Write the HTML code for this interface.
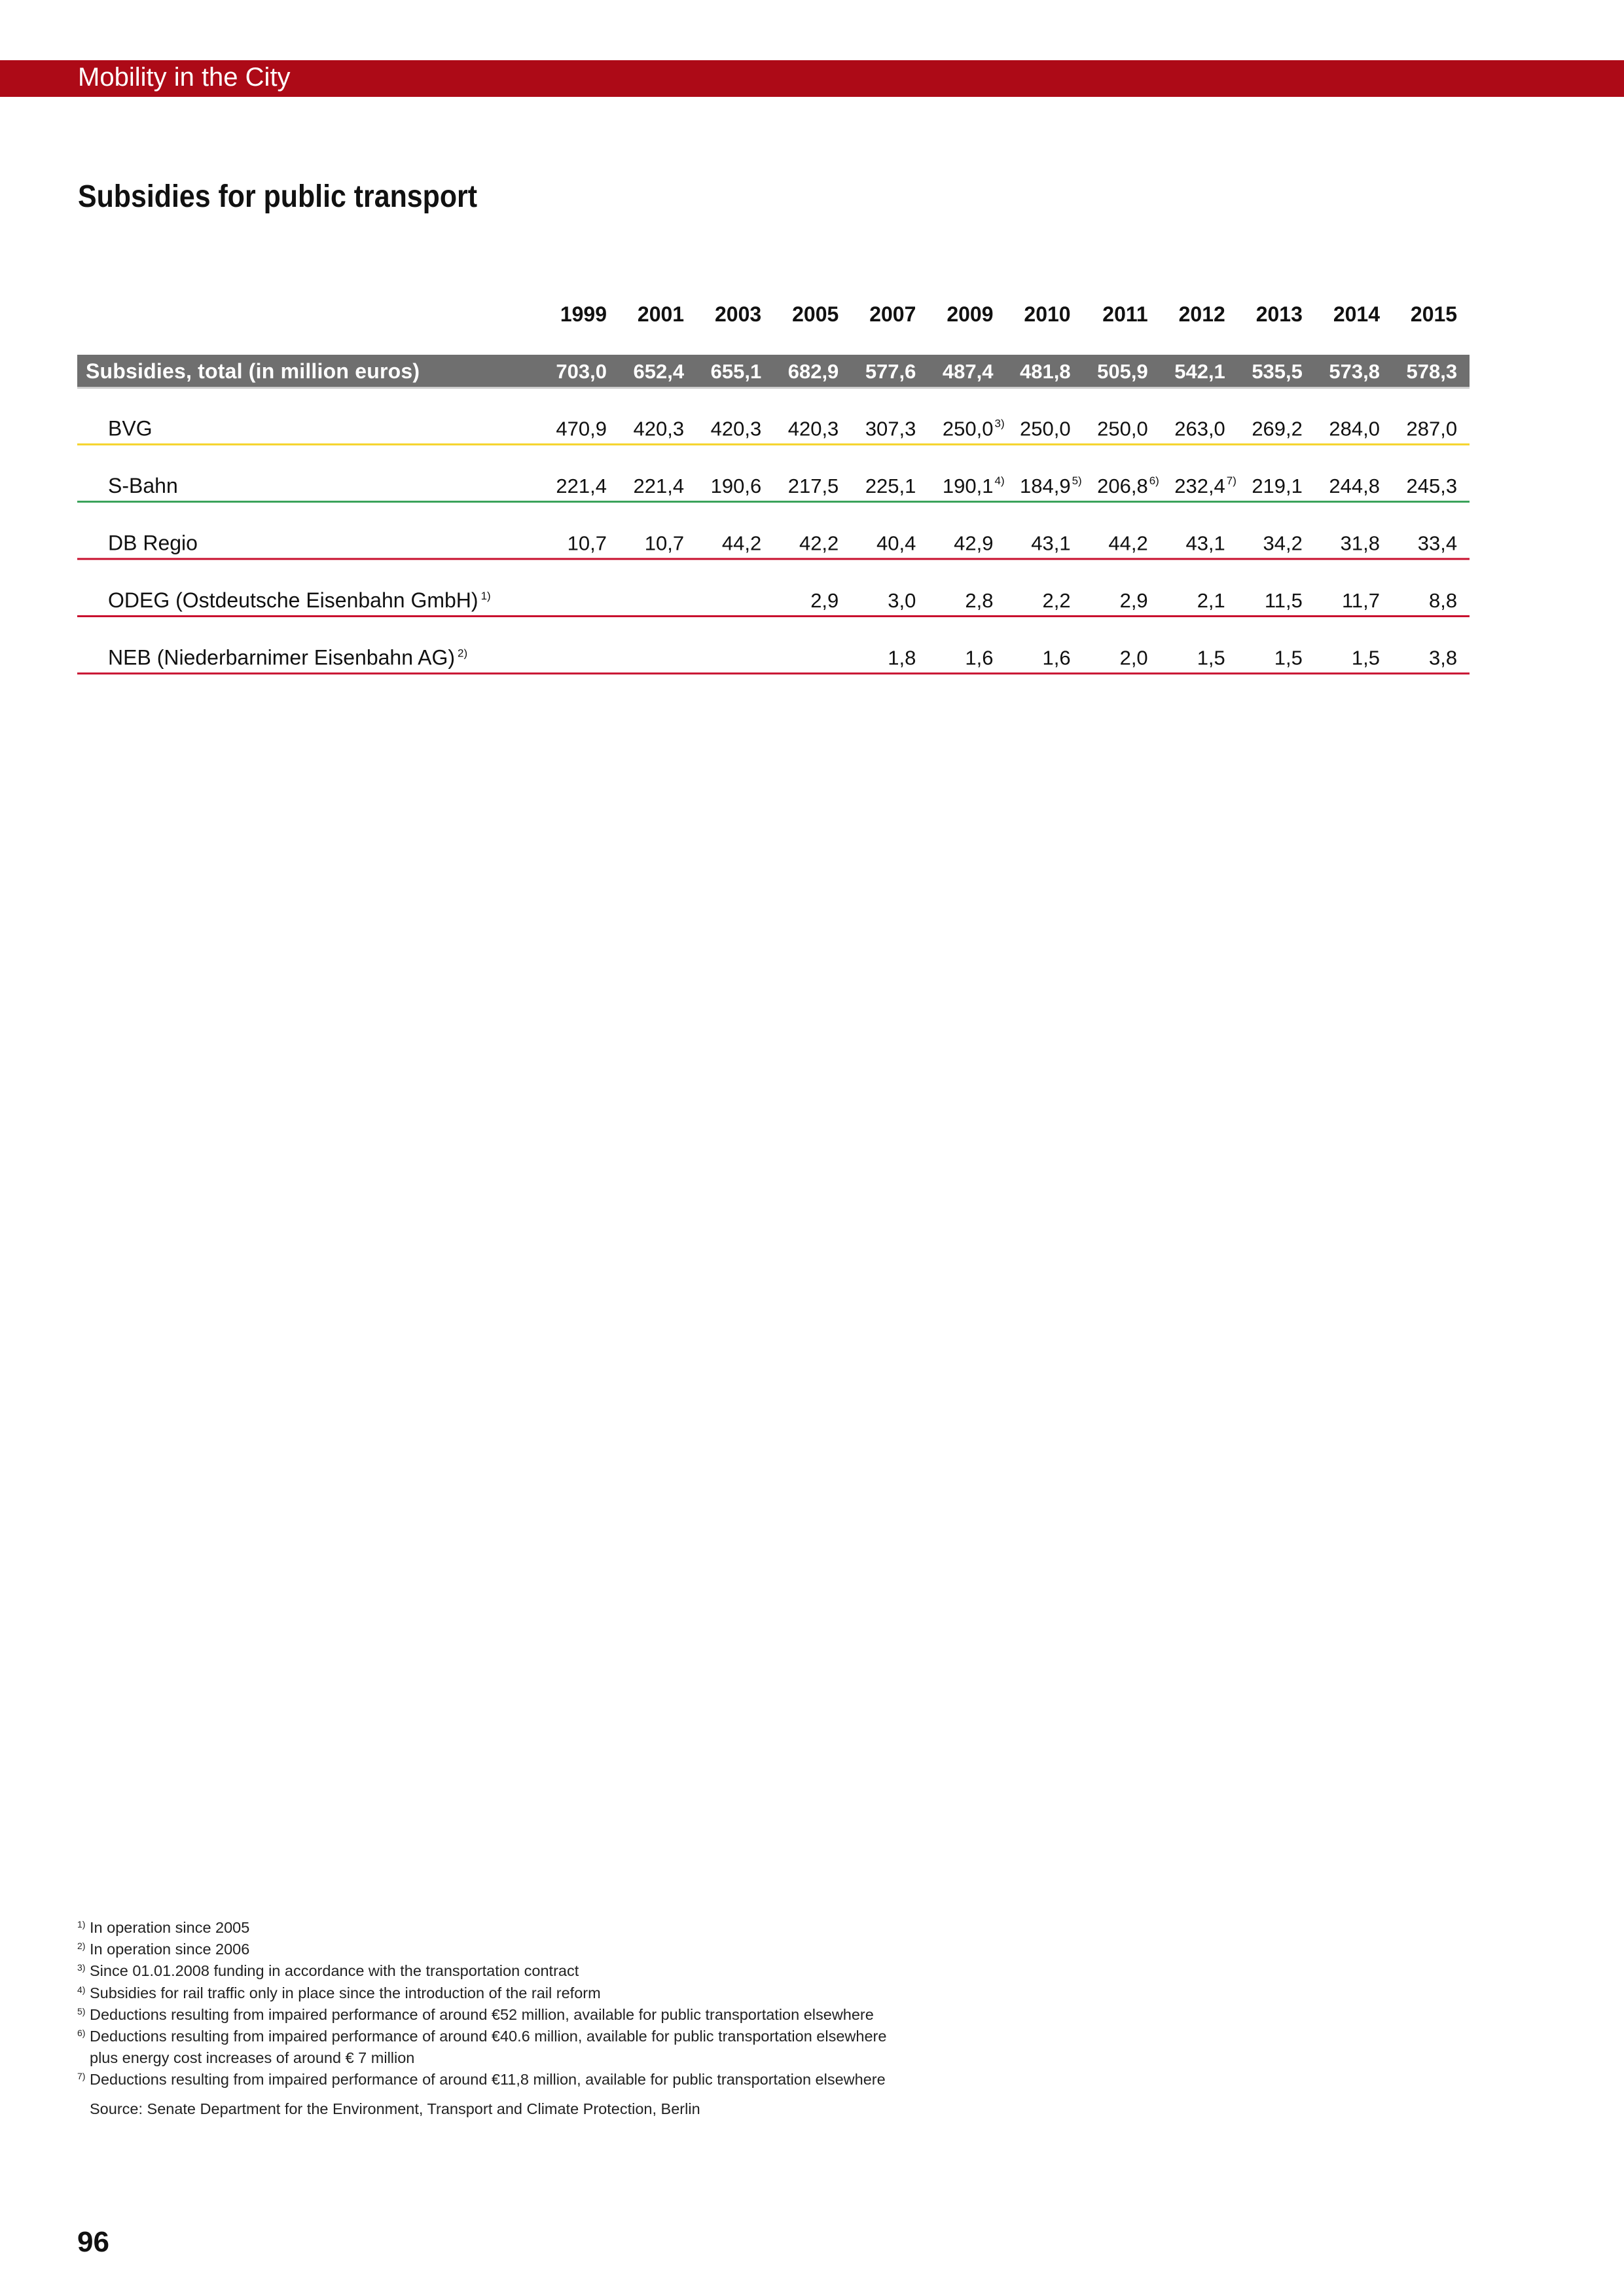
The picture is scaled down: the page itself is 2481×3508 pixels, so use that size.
<!DOCTYPE html>
<html><head><meta charset="utf-8"><style>
html,body{margin:0;padding:0;background:#fff}
svg{display:block}
text{font-family:"Liberation Sans",sans-serif}
</style></head><body>
<svg id="page" width="2481" height="3508" viewBox="0 0 2481 3508" xmlns="http://www.w3.org/2000/svg">
<rect x="0" y="92" width="2481" height="56" fill="#ad0a17"/>
<text x="119" y="131" font-size="40" fill="#fff">Mobility in the City</text>
<text x="119" y="316" font-size="48" font-weight="bold" fill="#111" textLength="610" lengthAdjust="spacingAndGlyphs">Subsidies for public transport</text>
<g id="table"></g>
<g font-size="23.5" fill="#222">
<text x="118" y="2953"><tspan font-size="14" dy="-8">1)</tspan><tspan x="137" dy="8">In operation since 2005</tspan></text>
<text x="118" y="2986"><tspan font-size="14" dy="-8">2)</tspan><tspan x="137" dy="8">In operation since 2006</tspan></text>
<text x="118" y="3019"><tspan font-size="14" dy="-8">3)</tspan><tspan x="137" dy="8">Since 01.01.2008 funding in accordance with the transportation contract</tspan></text>
<text x="118" y="3053"><tspan font-size="14" dy="-8">4)</tspan><tspan x="137" dy="8">Subsidies for rail traffic only in place since the introduction of the rail reform</tspan></text>
<text x="118" y="3086"><tspan font-size="14" dy="-8">5)</tspan><tspan x="137" dy="8">Deductions resulting from impaired performance of around €52 million, available for public transportation elsewhere</tspan></text>
<text x="118" y="3119"><tspan font-size="14" dy="-8">6)</tspan><tspan x="137" dy="8">Deductions resulting from impaired performance of around €40.6 million, available for public transportation elsewhere</tspan></text>
<text x="137" y="3152">plus energy cost increases of around € 7 million</text>
<text x="118" y="3185"><tspan font-size="14" dy="-8">7)</tspan><tspan x="137" dy="8">Deductions resulting from impaired performance of around €11,8 million, available for public transportation elsewhere</tspan></text>
<text x="137" y="3230">Source: Senate Department for the Environment, Transport and Climate Protection, Berlin</text>
</g>
<text x="118" y="3440" font-size="44" font-weight="bold" fill="#111">96</text>
</svg>
<script>
const years = ["1999","2001","2003","2005","2007","2009","2010","2011","2012","2013","2014","2015"];
const rowLabels = ["Subsidies, total (in million euros)","BVG","S-Bahn","DB Regio","ODEG (Ostdeutsche Eisenbahn GmbH)","NEB (Niederbarnimer Eisenbahn AG)"];
const labelNotes = ["","","","","1)","2)"];
const totalValues = ["703,0","652,4","655,1","682,9","577,6","487,4","481,8","505,9","542,1","535,5","573,8","578,3"];
const bvgValues = ["470,9","420,3","420,3","420,3","307,3","250,0","250,0","250,0","263,0","269,2","284,0","287,0"];
const sbahnValues = ["221,4","221,4","190,6","217,5","225,1","190,1","184,9","206,8","232,4","219,1","244,8","245,3"];
const dbRegioValues = ["10,7","10,7","44,2","42,2","40,4","42,9","43,1","44,2","43,1","34,2","31,8","33,4"];
const odegValues = ["","","","2,9","3,0","2,8","2,2","2,9","2,1","11,5","11,7","8,8"];
const nebValues = ["","","","","1,8","1,6","1,6","2,0","1,5","1,5","1,5","3,8"];
const bvgNotes = ["","","","","","3)","","","","","",""];
const sbahnNotes = ["","","","","","4)","5)","6)","7)","","",""];
const rowColors = ["#cfcfcf","#f5d327","#3ba35b","#c8102e","#c8102e","#c8102e"];

const NS="http://www.w3.org/2000/svg";
const g=document.getElementById('table');
const colX=i=>927+i*118.1;
const rowY=i=>578+i*87.5;
function mk(tag,attrs){const e=document.createElementNS(NS,tag);for(const k in attrs)e.setAttribute(k,attrs[k]);return e;}

years.forEach((y,i)=>{
  const t=mk('text',{x:colX(i),y:491,'text-anchor':'end','font-size':32,'font-weight':'bold',fill:'#111'});
  t.textContent=y;
  
  
  g.appendChild(t);
});

const allValues=[totalValues,bvgValues,sbahnValues,dbRegioValues,odegValues,nebValues];
const allNotes=[null,bvgNotes,sbahnNotes,null,null,null];
allValues.forEach((vals,r)=>{
  const y=rowY(r);
  const row=mk('g',{});
  
  
  g.appendChild(row);
  if(r===0){
    const bg=mk('rect',{x:118,y:542,width:2127,height:49,fill:'#6f6f6f'});
    
    
    row.appendChild(bg);
    row.appendChild(mk('rect',{x:118,y:591,width:2127,height:3,fill:rowColors[0]}));
  } else {
    const ln=mk('rect',{x:118,y:y+12,width:2127,height:3,fill:rowColors[r]});
    
    
    row.appendChild(ln);
  }
  const bold=r===0;
  const lab=mk('text',{x:bold?131:165,y:y,'font-size':32,'font-weight':bold?'bold':'normal',fill:bold?'#fff':'#111'});
  lab.textContent=rowLabels[r];
  
  
  if(bold) lab.setAttribute('textLength','510');
  row.appendChild(lab);
  if(labelNotes[r]){
    const bb=lab.getComputedTextLength();
    const sn=mk('text',{x:(bold?131:165)+bb+4,y:y-12,'font-size':17,fill:'#111'});
    sn.textContent=labelNotes[r];
    row.appendChild(sn);
  }
  vals.forEach((v,i)=>{
    if(!v)return;
    const t=mk('text',{x:colX(i),y:y,'text-anchor':'end','font-size':31,'font-weight':bold?'bold':'normal',fill:bold?'#fff':'#111'});
    t.textContent=v;
    
    
    row.appendChild(t);
    const n=allNotes[r]&&allNotes[r][i];
    if(n){
      const s=mk('text',{x:colX(i)+2,y:y-13,'font-size':17,fill:'#111'});
      s.textContent=n;
      row.appendChild(s);
    }
  });
});
</script>
</body></html>
